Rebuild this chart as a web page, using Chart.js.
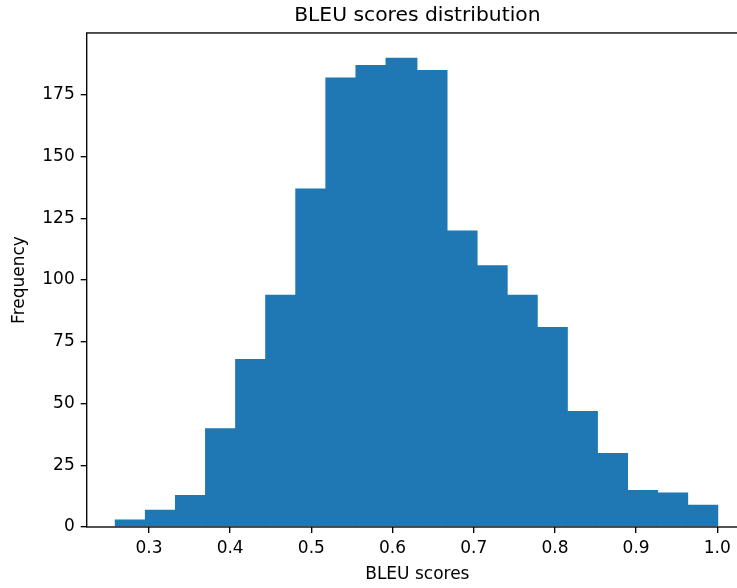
<!DOCTYPE html>
<html>
<head>
<meta charset="utf-8">
<script src="https://cdn.jsdelivr.net/npm/chart.js@4.4.1/dist/chart.umd.min.js"></script>
<style>
html,body{margin:0;padding:0;background:#fff;overflow:hidden;}
#wrap{width:737px;height:588px;overflow:hidden;position:relative;}
canvas{display:block;}
</style>
</head>
<body>
<div id="wrap"><canvas id="c" width="748" height="588"></canvas></div>
<script>
// ---- data ----
const binEdges = [0.2590, 0.2961, 0.3331, 0.3702, 0.4072, 0.4443, 0.4813, 0.5184, 0.5554, 0.5925,
                  0.6295, 0.6666, 0.7036, 0.7407, 0.7777, 0.8148, 0.8518, 0.8889, 0.9259, 0.9630, 1.0000];
const counts = [3, 7, 13, 40, 68, 94, 137, 182, 187, 190, 185, 120, 106, 94, 81, 47, 30, 15, 14, 9];
const xTicks = [0.3, 0.4, 0.5, 0.6, 0.7, 0.8, 0.9, 1.0];
const yTicks = [0, 25, 50, 75, 100, 125, 150, 175];
const titleText = 'BLEU scores distribution';
const xLabel = 'BLEU scores';
const yLabel = 'Frequency';

const points = counts.map((c, i) => ({ x: (binEdges[i] + binEdges[i + 1]) / 2, y: c }));

const FONT = 'DejaVu Sans';

const framePlugin = {
  id: 'frame',
  afterDatasetsDraw(chart) {
    const { ctx, chartArea: a } = chart;
    ctx.save();
    ctx.strokeStyle = '#000';
    ctx.lineWidth = 1.35;
    ctx.strokeRect(a.left, a.top, a.right - a.left, a.bottom - a.top);
    ctx.restore();
  }
};

new Chart(document.getElementById('c'), {
  type: 'bar',
  data: {
    datasets: [{
      data: points,
      backgroundColor: '#1f77b4',
      borderWidth: 0,
      inflateAmount: 0,
      barPercentage: 1.06,
      categoryPercentage: 1.0
    }]
  },
  options: {
    responsive: false,
    animation: false,
    layout: { padding: 0 },
    plugins: {
      legend: { display: false },
      tooltip: { enabled: false },
      title: {
        display: true,
        text: titleText,
        fullSize: false,
        color: '#000',
        font: { family: FONT, size: 20.3, weight: 'normal' },
        padding: { top: 4, bottom: 4.6 }
      }
    },
    scales: {
      x: {
        type: 'linear',
        offset: false,
        min: 0.2233,
        max: 1.0378,
        afterBuildTicks: s => { s.ticks = xTicks.map(v => ({ value: v })); },
        afterFit: s => { s.height = 61; },
        grid: { display: true, offset: false, drawOnChartArea: false, drawTicks: true, tickLength: 6, color: '#000', lineWidth: 1.35 },
        border: { display: false },
        ticks: {
          color: '#000',
          padding: 5,
          maxRotation: 0,
          autoSkip: false,
          font: { family: FONT, size: 17 },
          callback: v => Number(v).toFixed(1)
        },
        title: {
          display: true,
          text: xLabel,
          color: '#000',
          font: { family: FONT, size: 17 },
          padding: { top: 0, bottom: 3.1 }
        }
      },
      y: {
        min: 0,
        max: 200,
        afterBuildTicks: s => { s.ticks = yTicks.map(v => ({ value: v })); },
        afterFit: s => { s.width = 86.7; },
        grid: { display: true, drawOnChartArea: false, drawTicks: true, tickLength: 6, color: '#000', lineWidth: 1.35 },
        border: { display: false },
        ticks: {
          color: '#000',
          padding: 6,
          autoSkip: false,
          font: { family: FONT, size: 17 },
          callback: v => String(v)
        },
        title: {
          display: true,
          text: yLabel,
          color: '#000',
          font: { family: FONT, size: 17 },
          padding: { top: 9.3, bottom: 0 }
        }
      }
    }
  },
  plugins: [framePlugin]
});
</script>
</body>
</html>
